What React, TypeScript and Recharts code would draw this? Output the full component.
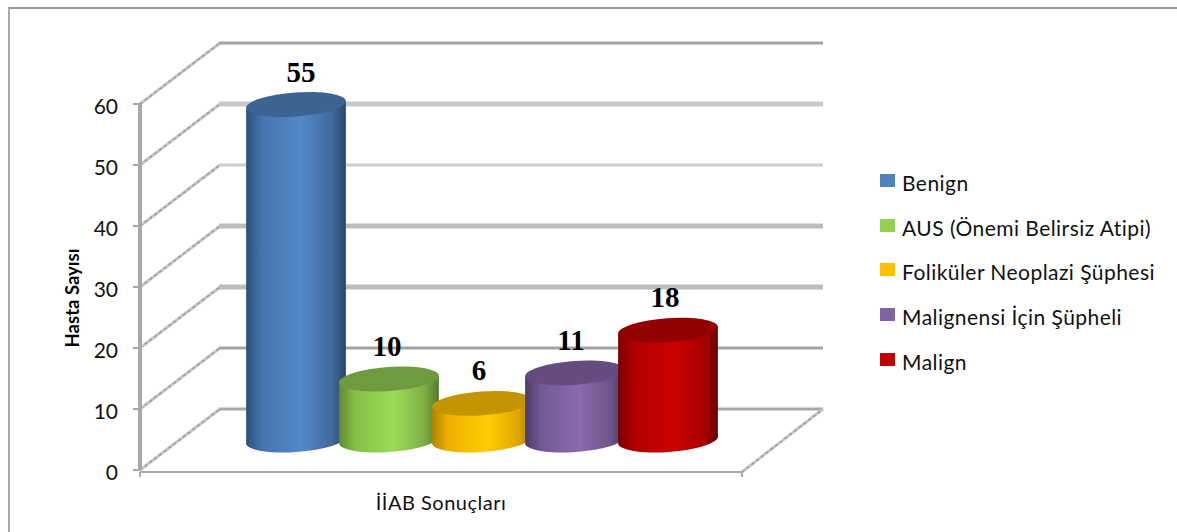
import { Bar, BarChart, CartesianGrid, Legend, XAxis, YAxis } from "recharts";

const categories = ["İİAB Sonuçları"];
const seriesNames = ["Benign", "AUS (Önemi Belirsiz Atipi)", "Foliküler Neoplazi Şüphesi", "Malignensi İçin Şüpheli", "Malign"];
const seriesValues = [55, 10, 6, 11, 18];
const seriesColors = ["#4f81bd", "#94d050", "#ffc000", "#8064a2", "#c00000"];
// side gradient stops (left edge, shoulder, highlight, right shoulder, right edge) and lid colour
const seriesTones = [
  ["#2d5080", "#4675ae", "#5488ca", "#42699c", "#284668", "#3c6493"],
  ["#5f8a30", "#85bf48", "#9cdc58", "#7dad44", "#557a2c", "#6f9a3e"],
  ["#b08400", "#eeb000", "#ffcc00", "#e0a800", "#a87c00", "#c49500"],
  ["#4d3a66", "#735a94", "#8a6bad", "#6c5489", "#47355f", "#644c80"],
  ["#7a0000", "#b00000", "#cc0000", "#a80000", "#680000", "#920000"],
];
const labelShifts = [5, -2, -3, -4, -3];
const yTicks = [0, 10, 20, 30, 40, 50, 60];
const yTitle = "Hasta Sayısı";
// back wall line per tick, bottom to top: [width, colour]
const backLines: [number, string][] = [
  [3, "#a8a8a8"],
  [3, "#a4a4a4"],
  [5, "#bdbdbd"],
  [5, "#bdbdbd"],
  [3, "#cccccc"],
  [5, "#c8c8c8"],
  [3, "#a4a4a4"],
];

const tableRow: Record<string, string | number> = { category: categories[0] };
seriesNames.forEach((name, i) => {
  tableRow[name] = seriesValues[i];
});
const chartData = [tableRow];

const SANS = "Lato, 'Open Sans', sans-serif";
const WALL = "#a8a8a8";

// the depth of the fake 3D box: the cylinders stand halfway into it
const DEPTH_X = 80;
const DEPTH_Y = 61;
const MID_X = 41;
const MID_Y = 30;
const LID_RY = 12;
const TILT = -4;

function makeCylinder(index: number) {
  const tones = seriesTones[index];
  const id = `side-${index}`;
  return function Cylinder(props: any) {
    const { x, y, width, height } = props;
    const cx = x + width / 2 + MID_X;
    const top = y - MID_Y;
    const bottom = top + height;
    const rx = width / 2;
    const rise = rx * Math.sin((-TILT * Math.PI) / 180);
    const run = rx * Math.cos((TILT * Math.PI) / 180);
    const side = [
      `M${cx - run} ${top + rise}`,
      `L${cx - run} ${bottom + rise}`,
      `A${rx} ${LID_RY} ${TILT} 0 0 ${cx + run} ${bottom - rise}`,
      `L${cx + run} ${top - rise}`,
      "Z",
    ].join(" ");
    return (
      <g>
        <defs>
          <linearGradient id={id} x1="0" y1="0" x2="1" y2="0">
            <stop offset="0" stopColor={tones[0]} />
            <stop offset="0.16" stopColor={tones[1]} />
            <stop offset="0.55" stopColor={tones[2]} />
            <stop offset="0.86" stopColor={tones[3]} />
            <stop offset="1" stopColor={tones[4]} />
          </linearGradient>
        </defs>
        <path d={side} fill={`url(#${id})`} />
        <ellipse cx={cx} cy={top} rx={rx} ry={LID_RY} fill={tones[5]} transform={`rotate(${TILT} ${cx} ${top})`} />
      </g>
    );
  };
}

function makeValueLabel(index: number) {
  return function ValueLabel(props: any) {
    const { x, y, width, value } = props;
    return (
      <text
        x={x + width / 2 + MID_X + labelShifts[index]}
        y={y - 53}
        textAnchor="middle"
        fontFamily="'Liberation Serif', serif"
        fontWeight="bold"
        fontSize={29}
        fill="#000"
      >
        {value}
      </text>
    );
  };
}

function WallDiagonal(props: any) {
  const { x1, y1, x2, y2 } = props;
  return (
    <>
      <line x1={x1} y1={y1} x2={x2} y2={y2} stroke="#c6c6c6" strokeWidth={3} />
      <line x1={x1} y1={y1} x2={x2} y2={y2} stroke="#9a9a9a" strokeWidth={1.4} strokeDasharray="3 3" />
    </>
  );
}

// walls and floor of the box, hung off each horizontal grid line
function WallLine(props: any) {
  const { x1, x2, y1 } = props;
  const backY = y1 - DEPTH_Y;
  const level = Math.round((470 - y1) / DEPTH_Y);
  const [weight, tone] = backLines[level] ?? backLines[0];
  const isFloor = level === 0;
  return (
    <g key={`wall-${level}`} fill="none">
      <WallDiagonal x1={x1} y1={y1} x2={x1 + DEPTH_X} y2={backY} />
      <line x1={x1 + DEPTH_X - 1} y1={backY} x2={x2 + DEPTH_X + 1} y2={backY} stroke={tone} strokeWidth={weight} />
      {isFloor && (
        <>
          <line x1={x1} y1={y1 + 2} x2={x2} y2={y1 + 2} stroke={WALL} strokeWidth={2} />
          <line x1={x1} y1={y1 + 2} x2={x1} y2={y1 + 7} stroke={WALL} strokeWidth={2} />
          <line x1={x2} y1={y1 + 2} x2={x2} y2={y1 + 7} stroke={WALL} strokeWidth={2} />
          <WallDiagonal x1={x2} y1={y1 + 2} x2={x2 + DEPTH_X + 1} y2={backY} />
        </>
      )}
    </g>
  );
}

function CategoryTick(props: any) {
  const { x, payload } = props;
  return (
    <text x={x} y={510} textAnchor="middle" fontFamily={SANS} fontSize={20} letterSpacing={0.5} fill="#111">
      {payload.value}
    </text>
  );
}

function AxisTitle(props: any) {
  const { viewBox } = props;
  const x = viewBox.x + 19;
  const y = viewBox.y + viewBox.height / 2 + 11;
  return (
    <text
      x={x}
      y={y}
      transform={`rotate(-90 ${x} ${y})`}
      textAnchor="middle"
      fontFamily={SANS}
      fontWeight="bold"
      fontSize={18.5}
      fill="#000"
    >
      {yTitle}
    </text>
  );
}

function LegendList(props: any) {
  const { payload } = props;
  return (
    <div style={{ fontFamily: SANS, fontSize: 21, letterSpacing: 0.45, color: "#111" }}>
      {payload.map((item: any) => (
        <div key={item.value} style={{ display: "flex", alignItems: "center", height: 44.8, whiteSpace: "nowrap" }}>
          <span style={{ width: 15, height: 13, background: item.color, marginRight: 7, marginTop: -4 }} />
          <span>{item.value}</span>
        </div>
      ))}
    </div>
  );
}

export default function App() {
  return (
    <div style={{ position: "absolute", left: 0, top: 0, width: 1177, height: 532, overflow: "hidden", background: "#fff" }}>
      <div style={{ position: "absolute", left: 8, top: 7, right: 0, bottom: 0, borderTop: "2px solid #999", borderLeft: "2px solid #aaa" }} />
      <BarChart
        width={1177}
        height={532}
        data={chartData}
        margin={{ top: 104, right: 435, bottom: 32, left: 60 }}
        barSize={100}
        barGap={-7}
        style={{ position: "absolute", left: 0, top: 0 }}
      >
        <CartesianGrid vertical={false} horizontal={WallLine} />
        <XAxis dataKey="category" axisLine={false} tickLine={false} tick={CategoryTick} height={30} />
        <YAxis
          type="number"
          domain={[0, 60]}
          ticks={yTicks}
          interval={0}
          width={80}
          axisLine={{ stroke: WALL, strokeWidth: 4 }}
          tickLine={{ stroke: WALL, strokeWidth: 2 }}
          tickSize={7}
          tickMargin={15}
          tick={{ fill: "#111", fontSize: 21, fontFamily: SANS, dy: 3 }}
          label={{ content: AxisTitle }}
        />
        <Legend
          layout="vertical"
          align="center"
          verticalAlign="middle"
          itemSorter={null}
          content={LegendList}
          wrapperStyle={{ left: 880, top: 160, width: 290 }}
        />
        {seriesNames.map((name, i) => (
          <Bar
            key={name}
            dataKey={name}
            name={name}
            fill={seriesColors[i]}
            shape={makeCylinder(i)}
            label={makeValueLabel(i)}
            isAnimationActive={false}
          />
        ))}
      </BarChart>
    </div>
  );
}
